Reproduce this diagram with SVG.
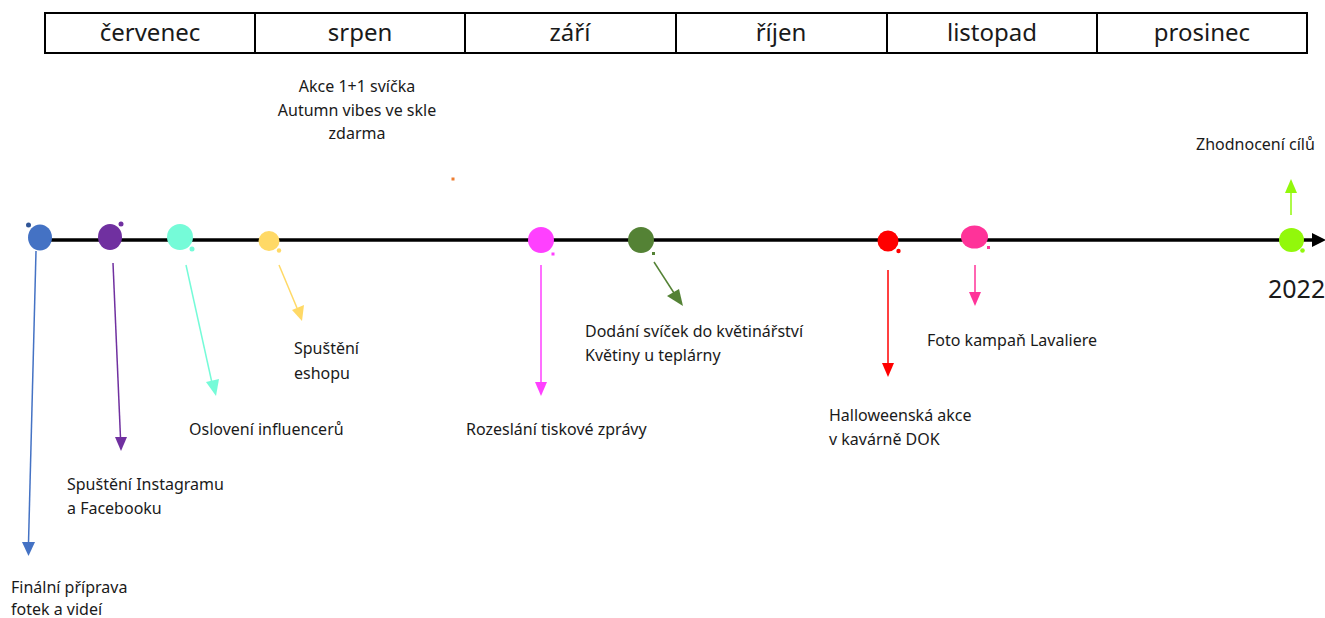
<svg xmlns="http://www.w3.org/2000/svg" width="1325" height="618" viewBox="0 0 1325 618">
<style>
text{font-family:"Noto Sans","Open Sans",sans-serif;fill:#1a1a1a}
.m{font-size:24px;text-anchor:middle}
.t{font-size:16px}
.c{text-anchor:middle}
.cell{fill:#fff;stroke:#000;stroke-width:2}
</style>
<rect width="1325" height="618" fill="#fff"/>
<g id="months">
<rect class="cell" x="45" y="13" width="1262" height="40"/>
<path d="M255,13V53M465,13V53M676,13V53M887,13V53M1097,13V53" stroke="#000" stroke-width="2"/>
<text class="m" x="150" y="41">červenec</text>
<text class="m" x="360" y="41">srpen</text>
<text class="m" x="570" y="41">září</text>
<text class="m" x="781" y="41">říjen</text>
<text class="m" x="992" y="41">listopad</text>
<text class="m" x="1202" y="41">prosinec</text>
</g>
<g id="timeline">
<line x1="30" y1="240" x2="1314" y2="240" stroke="#000" stroke-width="3.5"/>
<path d="M1312,233L1326,240L1312,247z" fill="#000"/>
<text x="1268" y="298" font-size="25">2022</text>
</g>
<g id="connectors" fill="none" stroke-width="1.5">
<g stroke="#4472C4"><line x1="36" y1="251" x2="28.5" y2="543"/><path d="M22,542L28.5,556L35,542z" fill="#4472C4" stroke="none"/></g>
<g stroke="#7030A0"><line x1="113" y1="263" x2="120.5" y2="438"/><path d="M115,437L121,451L127,437z" fill="#7030A0" stroke="none"/></g>
<g stroke="#75FBD8"><line x1="186" y1="265" x2="212" y2="383"/><path d="M206,382L216,396L219,379z" fill="#75FBD8" stroke="none"/></g>
<g stroke="#FFD966"><line x1="279" y1="265" x2="297" y2="308"/><path d="M292,310L302,321L304,305z" fill="#FFD966" stroke="none"/></g>
<g stroke="#FF40FF"><line x1="541" y1="265" x2="541" y2="383"/><path d="M535,382L541,396L547,382z" fill="#FF40FF" stroke="none"/></g>
<g stroke="#548235"><line x1="654" y1="262" x2="674" y2="293"/><path d="M667,296L683,306L679,289z" fill="#548235" stroke="none"/></g>
<g stroke="#FF0000"><line x1="888" y1="270" x2="888" y2="364"/><path d="M882,363L888,377L894,363z" fill="#FF0000" stroke="none"/></g>
<g stroke="#FF3399"><line x1="975" y1="265" x2="975" y2="293"/><path d="M969,292L975,306L981,292z" fill="#FF3399" stroke="none"/></g>
<g stroke="#92F80B"><line x1="1291" y1="215" x2="1291" y2="192"/><path d="M1285,193L1291,179L1297,193z" fill="#92F80B" stroke="none"/></g>
</g>
<g id="n1"><ellipse cx="40" cy="237.5" rx="12" ry="13" fill="#4472C4"/><circle cx="28.5" cy="225" r="2.5" fill="#2F5597"/><text class="t" x="11" y="593">Finální příprava</text><text class="t" x="11" y="615">fotek a videí</text></g>
<g id="n2"><ellipse cx="110" cy="237" rx="12" ry="13" fill="#7030A0"/><circle cx="121" cy="224" r="2.5" fill="#7030A0"/><text class="t" x="67" y="490">Spuštění Instagramu</text><text class="t" x="67" y="514">a Facebooku</text></g>
<g id="n3"><circle cx="180" cy="237" r="13" fill="#75FBD8"/><circle cx="192" cy="249" r="2.5" fill="#75FBD8"/><text class="t" x="189" y="435">Oslovení influencerů</text></g>
<g id="n4"><ellipse cx="269" cy="241" rx="10.5" ry="10" fill="#FFD966"/><circle cx="279" cy="250.5" r="2.2" fill="#FFD966"/><text class="t" x="294" y="354">Spuštění</text><text class="t" x="294" y="379">eshopu</text></g>
<g id="n5"><text class="t c" x="357" y="92">Akce 1+1 svíčka</text><text class="t c" x="357" y="116">Autumn vibes ve skle</text><text class="t c" x="357" y="139">zdarma</text><rect x="451.5" y="177.5" width="3" height="3" fill="#ED7D31"/></g>
<g id="n6"><circle cx="541" cy="240" r="13" fill="#FF40FF"/><rect x="551.5" y="252.5" width="3" height="3" fill="#FF40FF"/><text class="t" x="466" y="435">Rozeslání tiskové zprávy</text></g>
<g id="n7"><circle cx="641" cy="240" r="13" fill="#548235"/><rect x="652" y="252" width="3" height="3" fill="#548235"/><text class="t" x="585" y="337">Dodání svíček do květinářství</text><text class="t" x="585" y="361">Květiny u teplárny</text></g>
<g id="n8"><circle cx="888" cy="241" r="10.5" fill="#FF0000"/><circle cx="898.5" cy="251" r="2.2" fill="#FF0000"/><text class="t" x="829" y="421">Halloweenská akce</text><text class="t" x="829" y="445">v kavárně DOK</text></g>
<g id="n9"><ellipse cx="974.5" cy="237" rx="13.5" ry="11.5" fill="#FF3399"/><rect x="987" y="246" width="3" height="3" fill="#FF3399"/><text class="t" x="927" y="346">Foto kampaň Lavaliere</text></g>
<g id="n10"><ellipse cx="1291.5" cy="240" rx="12.5" ry="12" fill="#92F80B"/><circle cx="1302.5" cy="250.5" r="2.3" fill="#92F80B"/><text class="t" x="1196" y="150">Zhodnocení cílů</text></g>
</svg>
